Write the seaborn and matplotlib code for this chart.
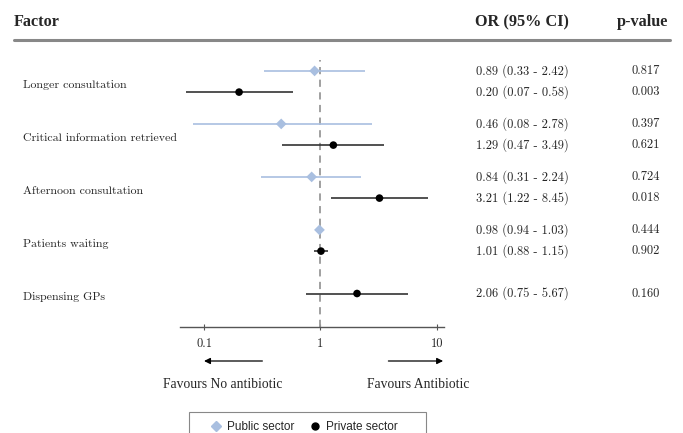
import numpy as np
import pandas as pd
import seaborn as sns
import matplotlib.pyplot as plt
from matplotlib.lines import Line2D
from matplotlib.patches import Rectangle
import matplotlib.transforms as mtransforms

# data
factors = ["Longer consultation", "Critical information retrieved",
           "Afternoon consultation", "Patients waiting", "Dispensing GPs"]
pub_or = [0.89, 0.46, 0.84, 0.98, np.nan]
pub_lo = [0.33, 0.08, 0.31, 0.94, np.nan]
pub_hi = [2.42, 2.78, 2.24, 1.03, np.nan]
pub_p = ["0.817", "0.397", "0.724", "0.444", None]
priv_or = [0.20, 1.29, 3.21, 1.01, 2.06]
priv_lo = [0.07, 0.47, 1.22, 0.88, 0.75]
priv_hi = [0.58, 3.49, 8.45, 1.15, 5.67]
priv_p = ["0.003", "0.621", "0.018", "0.902", "0.160"]
x_ticks = [0.1, 1, 10]
tick_labels = ["0.1", "1", "10"]

PUB_COL = "#a9bfe0"
PRIV_COL = "#333333"

# build long table, public row above private row inside each factor
rows = []
for i, f in enumerate(factors):
    has_pub = not np.isnan(pub_or[i])
    if has_pub:
        rows.append(dict(factor=f, sector="Public sector", y=i - 0.2,
                         est=pub_or[i], lo=pub_lo[i], hi=pub_hi[i], p=pub_p[i]))
    rows.append(dict(factor=f, sector="Private sector", y=i + 0.2 if has_pub else i,
                     est=priv_or[i], lo=priv_lo[i], hi=priv_hi[i], p=priv_p[i]))
df = pd.DataFrame(rows)

sns.set_style("white")
plt.rcParams["font.family"] = ["cmr10", "DejaVu Serif"]
plt.rcParams["axes.formatter.use_mathtext"] = True

W, H = 683, 433
fig = plt.figure(figsize=(W / 100, H / 100), dpi=100)
ax = fig.add_axes([180 / W, (H - 327) / H, 264 / W, 272 / H])

# confidence intervals
for sector, col in [("Public sector", PUB_COL), ("Private sector", PRIV_COL)]:
    sub = df[df.sector == sector]
    ax.hlines(sub.y, sub.lo, sub.hi, color=col, lw=1.2, zorder=2)

sns.scatterplot(data=df, x="est", y="y", hue="sector", style="sector",
                palette={"Public sector": PUB_COL, "Private sector": "black"},
                markers={"Public sector": "D", "Private sector": "o"},
                s=30, linewidth=0, legend=False, ax=ax, zorder=3)

ax.axvline(1, ymin=0, ymax=0.98, color="#999999", lw=1.3, ls=(0, (4, 3)), zorder=1)

ax.set_xscale("log")
ax.set_xlim(0.0622, 11.5)
ax.set_ylim(4.632, -0.5)
ax.set_xticks(x_ticks)
ax.set_xticklabels(tick_labels)
ax.minorticks_off()
ax.tick_params(axis="x", which="major", direction="inout", length=4, width=0.8,
               color="#555555", labelsize=9, pad=6, bottom=True)
ax.set_yticks([])
ax.set_xlabel("")
ax.set_ylabel("")
for s in ["top", "left", "right"]:
    ax.spines[s].set_visible(False)
ax.spines["bottom"].set_color("#555555")
ax.spines["bottom"].set_linewidth(1.0)

# row labels and table columns
lab_tr = mtransforms.blended_transform_factory(fig.transFigure, ax.transData)
for i, f in enumerate(factors):
    ax.text(23 / W, i + 0.07, f, transform=lab_tr, ha="left", va="center", fontsize=8.6)
for _, r in df.iterrows():
    ax.text(476 / W, r.y, f"{r.est:.2f} ({r.lo:.2f} - {r.hi:.2f})",
            transform=lab_tr, ha="left", va="center", fontsize=9)
    ax.text(660 / W, r.y, r.p, transform=lab_tr, ha="right", va="center", fontsize=9)

# header
hdr = dict(fontsize=11.7, fontweight="bold", family="Liberation Serif", va="center")
fig.text(14 / W, 1 - 22 / H, "Factor", ha="left", **hdr)
fig.text(475 / W, 1 - 22 / H, "OR (95% CI)", ha="left", **hdr)
fig.text(668 / W, 1 - 22 / H, "p-value", ha="right", **hdr)
fig.add_artist(Line2D([14 / W, 670 / W], [1 - 40 / H, 1 - 40 / H],
                      transform=fig.transFigure, color="#888888", lw=2.2))

# direction arrows
arr_tr = mtransforms.blended_transform_factory(ax.transData, fig.transFigure)
ya = 1 - 361 / H
arrow = dict(arrowstyle="-|>", color="black", lw=0.9, mutation_scale=9, shrinkA=0, shrinkB=0)
ax.annotate("", xy=(0.1, ya), xytext=(0.317, ya), xycoords=arr_tr, textcoords=arr_tr,
            arrowprops=arrow, annotation_clip=False)
ax.annotate("", xy=(11.3, ya), xytext=(3.83, ya), xycoords=arr_tr, textcoords=arr_tr,
            arrowprops=arrow, annotation_clip=False)
fig.text(223 / W, 1 - 384 / H, "Favours No antibiotic", ha="center", va="center",
         fontsize=9.8, family="Liberation Serif")
fig.text(418 / W, 1 - 384 / H, "Favours Antibiotic", ha="center", va="center",
         fontsize=9.8, family="Liberation Serif")

# legend, with its box drawn separately (it runs off the bottom edge)
handles = [Line2D([], [], ls="", marker="D", color=PUB_COL, markersize=5, label="Public sector"),
           Line2D([], [], ls="", marker="o", color="black", markersize=5, label="Private sector")]
fig.legend(handles=handles, loc="center", bbox_to_anchor=(304 / W, 1 - 427 / H),
           ncol=2, frameon=False, prop={"family": "Liberation Sans", "size": 8.5},
           handletextpad=0.4, columnspacing=1.3, handlelength=1.0, borderaxespad=0)
fig.add_artist(Rectangle((189 / W, -0.05), 237 / W, 0.05 + (H - 412) / H,
                         transform=fig.transFigure, fill=False, edgecolor="#888888", lw=0.8))

fig.savefig("out.png", dpi=100)
